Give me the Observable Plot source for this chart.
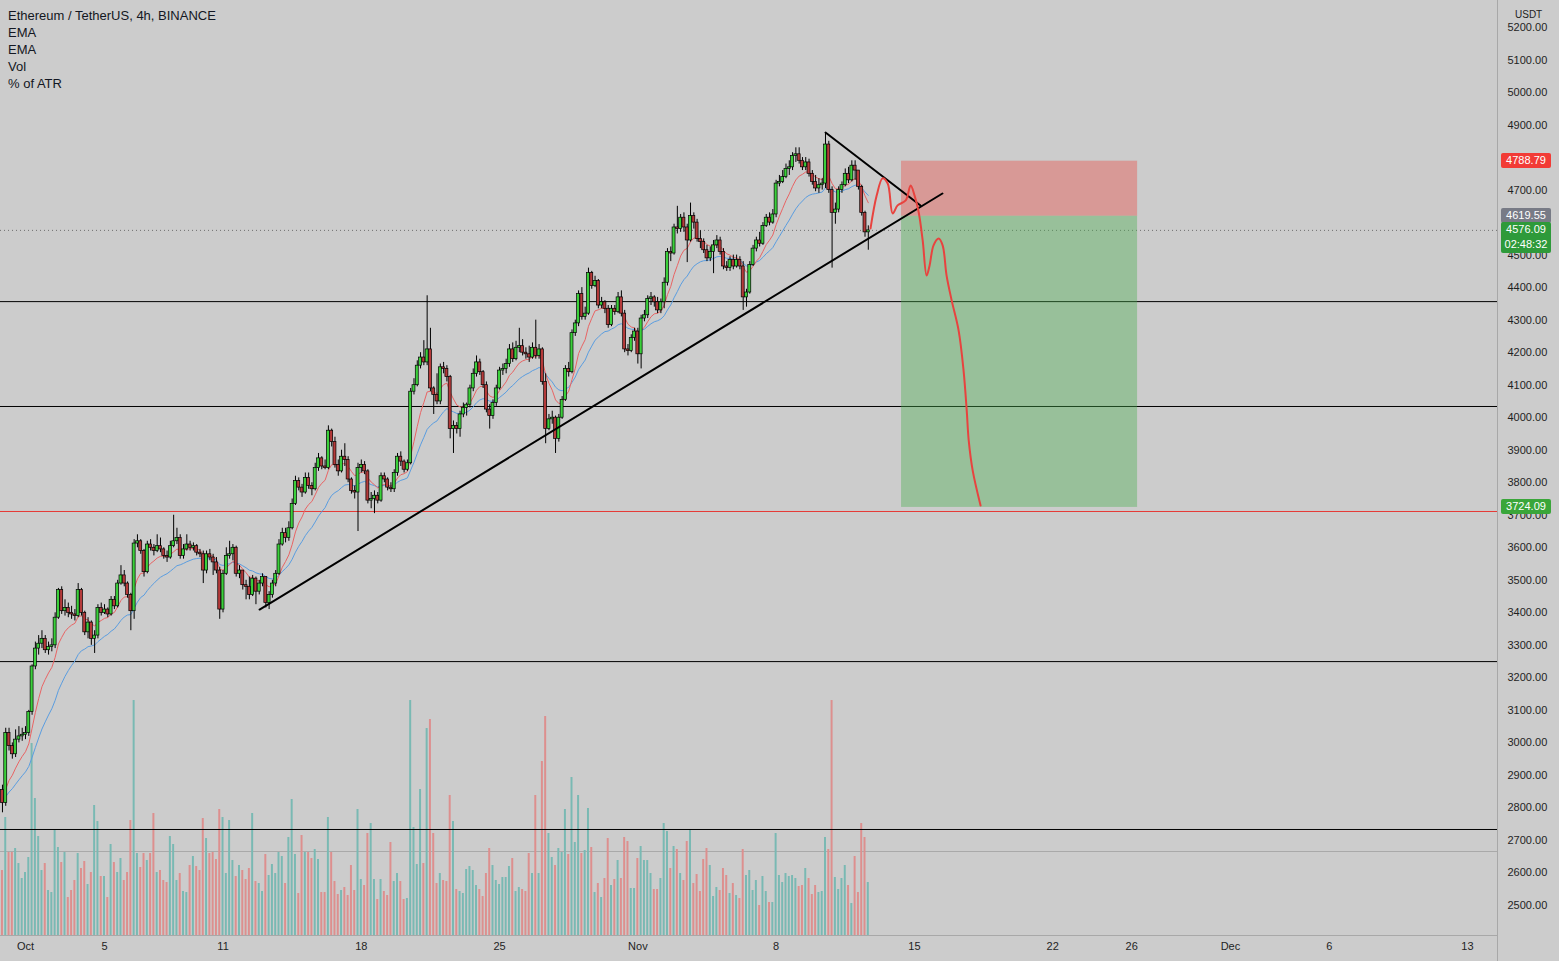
<!DOCTYPE html>
<html><head><meta charset="utf-8">
<script src="https://cdn.jsdelivr.net/npm/d3@7"></script>
<script src="https://cdn.jsdelivr.net/npm/@observablehq/plot@0.6"></script>
<style>
html,body{margin:0;padding:0;background:#cccccc;}
#wrap{position:relative;width:1559px;height:961px;overflow:hidden;font-family:"Liberation Sans",Arial,sans-serif;background:#cccccc;}
#legend{position:absolute;left:8px;top:7px;font-size:13px;color:#131722;line-height:17px;}
.plab{position:absolute;left:1501px;width:50px;color:#fff;font-size:11px;line-height:15px;padding-left:0;text-align:center;border-radius:2px;}
#usdt{position:absolute;left:1515px;top:9px;font-size:10px;color:#222;}
#vline{position:absolute;left:1497px;top:0;width:1px;height:961px;background:#a8a8a8;}
svg{position:absolute;left:0;top:0;}
</style></head>
<body><div id="wrap"><div id="legend"><div>Ethereum / TetherUS, 4h, BINANCE</div><div>EMA</div><div>EMA</div><div>Vol</div><div>% of ATR</div></div><div id="vline"></div><div id="usdt">USDT</div></div>
<script>
// ---- data ----
const dayZero = "2021-10-01T00:00Z";
const firstCandle = "2021-09-29T20:00Z"; // 4h candles
const firstOpen = 2855;
const closes = [2815,3030,2990,2965,3010,3020,3025,3030,3095,3235,3290,3305,3320,3285,3295,3300,3385,3470,3405,3415,3400,3395,3390,3470,3400,3340,3370,3320,3330,3415,
3400,3410,3395,3440,3420,3490,3515,3490,3455,3405,3613,3620,3590,3525,3610,3600,3590,3605,3595,3575,3570,3605,3620,3630,3575,3595,3610,3600,3605,3585,
3580,3530,3580,3570,3555,3530,3410,3520,3575,3580,3600,3520,3530,3485,3480,3455,3505,3465,3490,3510,3430,3455,3490,3520,3610,3645,3630,3660,3735,3805,
3785,3770,3815,3790,3780,3845,3875,3850,3845,3960,3925,3855,3835,3880,3870,3810,3775,3770,3845,3855,3835,3745,3750,3760,3745,3820,3810,3785,3780,3830,
3880,3865,3840,3860,4080,4100,4160,4185,4170,4210,4090,4070,4050,4155,4150,4125,3965,3975,3965,4010,4030,4040,4090,4135,4170,4140,4100,4025,4005,4045,
4090,4145,4150,4165,4210,4180,4215,4220,4200,4195,4185,4215,4190,4210,4110,3965,3995,4000,3935,4000,4055,4150,4140,4260,4290,4380,4310,4320,4445,4405,
4420,4345,4355,4335,4285,4335,4325,4370,4320,4210,4205,4245,4265,4195,4305,4315,4365,4370,4355,4330,4355,4415,4510,4505,4585,4580,4615,4585,4545,4620,
4600,4550,4540,4515,4490,4510,4530,4545,4510,4465,4460,4485,4465,4485,4465,4370,4385,4470,4520,4545,4535,4590,4615,4600,4625,4720,4725,4740,4765,4770,
4805,4810,4790,4770,4785,4750,4725,4705,4715,4720,4840,4700,4630,4640,4700,4715,4750,4730,4775,4760,4710,4630,4570,4576.09];
const highs = [2870,3045,3045,3000,3040,3050,3045,3050,3100,3240,3310,3330,3345,3330,3310,3320,3400,3475,3480,3440,3430,3420,3410,3490,3475,3405,3385,3375,3345,3425,
3430,3425,3415,3450,3450,3500,3545,3530,3495,3460,3625,3640,3625,3595,3620,3625,3610,3640,3630,3600,3590,3620,3700,3660,3640,3610,3640,3620,3615,3610,
3595,3590,3590,3595,3580,3570,3540,3530,3600,3620,3610,3605,3545,3530,3500,3510,3515,3510,3500,3520,3505,3465,3500,3530,3625,3660,3660,3680,3750,3820,
3815,3795,3830,3830,3800,3860,3890,3880,3870,3975,3965,3940,3870,3900,3920,3880,3815,3790,3860,3870,3865,3840,3770,3775,3770,3830,3830,3815,3800,3840,
3890,3895,3870,3870,4090,4120,4175,4200,4237,4375,4275,4095,4135,4165,4170,4160,4130,3990,3985,4020,4045,4045,4100,4150,4190,4180,4145,4110,4040,4055,
4100,4155,4165,4180,4225,4230,4235,4275,4240,4215,4220,4230,4300,4225,4215,4135,4010,4020,4005,4010,4065,4160,4170,4270,4300,4390,4400,4340,4460,4450,
4435,4425,4370,4360,4345,4345,4345,4385,4390,4330,4225,4255,4275,4275,4315,4330,4375,4385,4375,4370,4365,4430,4520,4525,4595,4650,4625,4630,4595,4660,
4630,4610,4575,4550,4530,4525,4545,4560,4555,4520,4480,4495,4500,4500,4495,4480,4395,4480,4530,4555,4570,4600,4625,4630,4640,4730,4745,4760,4780,4790,
4815,4830,4830,4800,4800,4795,4760,4745,4735,4735,4875,4850,4710,4660,4710,4725,4765,4770,4790,4790,4760,4715,4635,4590];
const lows = [2785,2805,2975,2950,2955,3000,3005,3010,3020,3085,3225,3270,3290,3275,3270,3280,3290,3380,3395,3390,3385,3380,3375,3385,3390,3330,3320,3300,3275,3320,
3390,3395,3385,3390,3410,3415,3485,3480,3445,3345,3380,3600,3580,3510,3520,3590,3575,3585,3585,3565,3555,3565,3600,3610,3565,3565,3590,3590,3590,3575,
3570,3490,3520,3560,3515,3520,3380,3400,3515,3565,3560,3510,3505,3470,3440,3440,3450,3425,3455,3480,3415,3410,3445,3480,3515,3605,3615,3620,3655,3730,
3775,3755,3765,3780,3760,3775,3835,3840,3840,3840,3910,3845,3820,3830,3850,3800,3765,3750,3650,3830,3825,3735,3720,3705,3735,3740,3800,3775,3770,3770,
3820,3850,3830,3835,3855,4070,4095,4150,4160,4160,4080,4010,4040,4040,4135,4110,3935,3890,3950,3940,4000,4005,4030,4080,4125,4130,4090,4015,3965,3995,
4035,4085,4130,4135,4155,4170,4175,4200,4190,4180,4170,4180,4180,4180,4100,3920,3960,3980,3890,3925,3995,4050,4125,4135,4250,4280,4300,4300,4315,4395,
4400,4335,4335,4320,4275,4280,4315,4320,4310,4200,4190,4200,4235,4165,4150,4295,4305,4345,4340,4320,4320,4335,4405,4480,4500,4565,4570,4570,4477,4540,
4580,4540,4520,4505,4480,4480,4443,4520,4500,4455,4450,4450,4455,4460,4455,4330,4340,4380,4465,4510,4525,4530,4585,4590,4595,4615,4710,4720,4735,4745,
4760,4785,4780,4760,4760,4740,4715,4695,4690,4700,4705,4690,4460,4595,4630,4690,4710,4720,4725,4730,4700,4620,4555,4515];
const volumes = [65,118,83,83,87,72,57,63,78,192,137,99,65,72,45,43,105,88,73,83,38,45,55,82,67,74,51,63,130,114,
59,59,38,91,73,63,77,55,63,115,235,82,68,82,75,82,122,63,65,55,53,99,91,55,62,44,43,70,79,69,
65,117,97,82,83,76,126,118,62,115,75,59,70,65,56,67,122,54,52,44,81,60,71,62,83,79,52,98,136,81,
42,100,83,83,77,86,76,43,43,118,83,54,41,45,48,40,70,45,126,56,50,102,112,56,36,56,44,40,93,54,
62,54,36,37,235,108,71,146,72,207,216,102,52,62,55,54,140,114,46,44,42,66,69,65,50,46,39,62,87,70,
55,51,58,58,69,77,44,48,46,44,82,62,140,62,174,219,102,78,70,87,83,126,81,158,93,140,82,85,127,88,
43,52,38,57,97,50,56,75,57,98,94,47,47,77,89,75,75,62,46,46,57,112,104,67,89,86,62,55,94,106,
52,61,44,76,87,70,39,48,45,67,60,42,52,40,37,86,60,65,45,55,30,59,44,33,33,102,60,53,62,59,
60,57,49,50,67,57,41,50,43,44,98,86,235,58,46,57,70,50,32,79,43,112,98,53];
const emaPeriods = [9, 21];
// horizontal levels
const blackLevels = [4357, 4034.5, 3250, 2733.7];
const redLevel = [3711.6];
const greyLevel = [2666];
const lastPrice = 4576.09;
// drawn trend lines (days after Oct 1, price)
const trendDays = [11.85, 46.42], trendPrices = [3410, 4689.5];
const triDays = [40.50, 45.31], triPrices = [4877, 4652.6];
// projected path drawn in red
const projDays = [42.78,43.09,43.39,43.65,43.90,44.15,44.56,44.81,45.01,45.22,45.42,45.62,45.77,45.97,46.23,46.43,46.63,46.89,47.24,47.49,47.65,47.75,47.95,48.35];
const projPrices = [4582,4683,4736,4720,4628,4653,4668,4714,4683,4631,4545,4437,4468,4530,4551,4530,4437,4360,4268,4145,4022,3930,3838,3730];
// position tool
const posDays = [44.35, 56.30];
const stopPrice = 4788.79, entryPrice = 4619.55, targetPrice = 3724.09;
// axes
const xTicks = [0,4,10,17,24,31,38,45,52,56,61,66,73];
const xLabels = ["Oct","5","11","18","25","Nov","8","15","22","26","Dec","6","13"];
// 4600.00 sits fully under the price labels in the reference, so it is not listed
const yTicks = [2500,2600,2700,2800,2900,3000,3100,3200,3300,3400,3500,3600,3700,3800,3900,4000,4100,4200,4300,4400,4500,4700,4800,4900,5000,5100,5200];
const xDomain = [-1.2656, 74.52], yDomain = [2407.7, 5283];

// ---- build ----
const t0 = (Date.parse(firstCandle) - Date.parse(dayZero)) / 864e5;
const candles = closes.map((c, i) => {
  const o = i ? closes[i - 1] : firstOpen;
  return {t: t0 + i / 6, o, c, h: Math.max(highs[i], o, c), l: Math.min(lows[i], o, c), v: volumes[i], up: c >= o};
});
function ema(arr, n) { const k = 2 / (n + 1); let e = arr[0]; return arr.map(v => (e = v * k + e * (1 - k))); }
const emaFast = ema(closes, emaPeriods[0]).map((v, i) => ({t: candles[i].t, v}));
const emaSlow = ema(closes, emaPeriods[1]).map((v, i) => ({t: candles[i].t, v}));
const volPriceUnit = 3.075;
const trend = trendDays.map((d, i) => ({d, p: trendPrices[i]}));
const tri = triDays.map((d, i) => ({d, p: triPrices[i]}));
const proj = projDays.map((d, i) => ({d, p: projPrices[i]}));
const labelMap = new Map(xTicks.map((t, i) => [t, xLabels[i]]));
const GREEN = "#3bd03b", RED = "#b53a3a";

const chart = Plot.plot({
  width: 1559, height: 961,
  marginLeft: 0, marginRight: 62, marginTop: 0, marginBottom: 26,
  x: {type: "linear", domain: xDomain},
  y: {domain: yDomain},
  style: {background: "transparent", fontFamily: "Liberation Sans, Arial, sans-serif", fontSize: "11px", color: "#1f1f1f"},
  marks: [
    Plot.ruleY(greyLevel, {stroke: "#a9a9a9", strokeWidth: 1}),
    Plot.rect(candles, {x1: d => d.t - 0.05, x2: d => d.t + 0.05, y1: yDomain[0], y2: d => yDomain[0] + d.v * volPriceUnit,
      fill: d => d.up ? "#79b9b3" : "#dd8f8e", clip: true}),
    Plot.ruleY(blackLevels, {stroke: "#000", strokeWidth: 1}),
    Plot.ruleY(redLevel, {stroke: "#e53935", strokeWidth: 1}),
    Plot.ruleY([lastPrice], {stroke: "#6f6f6f", strokeWidth: 1, strokeDasharray: "1,3"}),
    Plot.rect([{y1: entryPrice, y2: stopPrice}], {x1: posDays[0], x2: posDays[1], y1: "y1", y2: "y2", fill: "#e46660", fillOpacity: 0.5}),
    Plot.rect([{y1: targetPrice, y2: entryPrice}], {x1: posDays[0], x2: posDays[1], y1: "y1", y2: "y2", fill: "#4caf50", fillOpacity: 0.4}),
    Plot.line(emaSlow, {x: "t", y: "v", stroke: "#5a9de0", strokeWidth: 1, clip: true}),
    Plot.line(emaFast, {x: "t", y: "v", stroke: "#e86464", strokeWidth: 1, clip: true}),
    Plot.ruleX(candles, {x: "t", y1: "l", y2: "h", stroke: "#000", strokeWidth: 1, clip: true}),
    Plot.rect(candles, {x1: d => d.t - 0.075, x2: d => d.t + 0.075, y1: "o", y2: "c",
      fill: d => d.up ? GREEN : RED, stroke: "#000", strokeWidth: 0.7, clip: true}),
    Plot.line(trend, {x: "d", y: "p", stroke: "#000", strokeWidth: 2}),
    Plot.line(tri, {x: "d", y: "p", stroke: "#000", strokeWidth: 2}),
    Plot.line(proj, {x: "d", y: "p", stroke: "#e8433f", strokeWidth: 2, curve: "catmull-rom"}),
    Plot.ruleY([yDomain[0]], {stroke: "#a8a8a8"}),
    Plot.axisX({ticks: xTicks, tickFormat: d => labelMap.get(d), tickSize: 0, tickPadding: 7, label: null, fill: "#1f1f1f"}),
    Plot.axisY({anchor: "right", ticks: yTicks, tickFormat: d => d.toFixed(2), tickSize: 0, tickPadding: 10, label: null, fill: "#1f1f1f"})
  ]
});
const wrap = document.getElementById("wrap");
wrap.insertBefore(chart, wrap.firstChild);

// price labels on the right scale
const ys = chart.scale("y");
const priceLabels = [
  {v: stopPrice, bg: "#f23b36", text: stopPrice.toFixed(2)},
  {v: entryPrice, bg: "#787b86", text: entryPrice.toFixed(2)},
  {v: lastPrice, bg: "#2e9a3a", text: lastPrice.toFixed(2) + "<br>02:48:32", two: true},
  {v: targetPrice, bg: "#3aa63a", text: targetPrice.toFixed(2)}
];
for (const L of priceLabels) {
  const div = document.createElement("div");
  div.className = "plab";
  div.style.background = L.bg;
  div.innerHTML = L.text;
  const y = ys.apply(L.v);
  div.style.top = (y - 7.5) + "px";
  if (L.two) div.style.paddingBottom = "1px";
  wrap.appendChild(div);
}
</script>
</body></html>
